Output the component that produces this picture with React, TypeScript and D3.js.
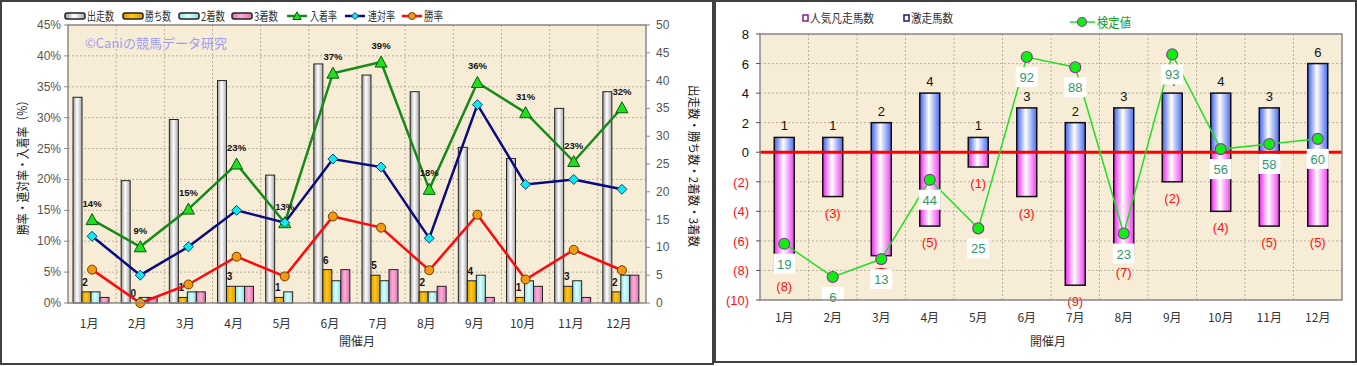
import * as d3 from "d3";

// 月別データ（左：成績、右：激走・凡走）
const months = ["1月", "2月", "3月", "4月", "5月", "6月", "7月", "8月", "9月", "10月", "11月", "12月"];
const runs = [37, 22, 33, 40, 23, 43, 41, 38, 28, 26, 35, 38];
const wins = [2, 0, 1, 3, 1, 6, 5, 2, 4, 1, 3, 2];
const seconds = [2, 1, 2, 3, 2, 4, 4, 2, 5, 4, 4, 5];
const thirds = [1, 1, 2, 3, 0, 6, 6, 3, 1, 3, 1, 5];
const placeRate = [13.5, 9.1, 15.2, 22.5, 13.0, 37.2, 39.0, 18.4, 35.7, 30.8, 22.9, 31.6];
const quinellaRate = [10.8, 4.5, 9.1, 15.0, 13.0, 23.3, 22.0, 10.5, 32.1, 19.2, 20.0, 18.4];
const winRate = [5.4, 0, 3.0, 7.5, 4.3, 14.0, 12.2, 5.3, 14.3, 3.8, 8.6, 5.3];

const hotRuns = [1, 1, 2, 4, 1, 3, 2, 3, 4, 4, 3, 6];
const popFails = [8, 3, 7, 5, 1, 3, 9, 7, 2, 4, 5, 5];
const testValue = [19, 6, 13, 44, 25, 92, 88, 23, 93, 56, 58, 60];

const rateTicks = [0, 5, 10, 15, 20, 25, 30, 35, 40, 45];
const countTicks = [0, 5, 10, 15, 20, 25, 30, 35, 40, 45, 50];
const rightTicks = [8, 6, 4, 2, 0, -2, -4, -6, -8, -10];

const jp = "'Noto Sans CJK JP', 'Liberation Sans', sans-serif";
const num = "'Liberation Sans', Arial, sans-serif";
const bg = "#f7ecd6";
const grid = "#b9b0a0";

function LeftChart() {
  const L = 68, R = 646, T = 25, B = 303;
  const x = d3.scaleBand<string>().domain(months).range([L, R]);
  const yRate = d3.scaleLinear().domain([0, 45]).range([B, T]);
  const yCount = d3.scaleLinear().domain([0, 50]).range([B, T]);
  const sub = d3.scaleBand<string>().domain(["runs", "wins", "seconds", "thirds"]).range([5, 41]);
  const cx = (i: number) => (x(months[i]) as number) + x.bandwidth() / 2;

  const series = [
    { key: "runs", vals: runs, fill: "url(#gWhite)" },
    { key: "wins", vals: wins, fill: "url(#gGold)" },
    { key: "seconds", vals: seconds, fill: "url(#gCyan)" },
    { key: "thirds", vals: thirds, fill: "url(#gPink)" },
  ];
  const line = (vals: number[]) =>
    d3.line<number>().x((_, i) => cx(i)).y((d) => yRate(d))(vals) as string;

  const tri = (px: number, py: number, s = 1) =>
    `M${px},${py - 6 * s}L${px + 6 * s},${py + 5 * s}L${px - 6 * s},${py + 5 * s}Z`;
  const dia = (px: number, py: number, s = 1) =>
    `M${px},${py - 5 * s}L${px + 5 * s},${py}L${px},${py + 5 * s}L${px - 5 * s},${py}Z`;

  const legendBoxes = [
    { x: 65, label: "出走数", fill: "url(#gWhite)", w: 27 },
    { x: 123, label: "勝ち数", fill: "url(#gGold)", w: 26 },
    { x: 179, label: "2着数", fill: "url(#gCyan)", w: 24 },
    { x: 232, label: "3着数", fill: "url(#gPink)", w: 24 },
  ];

  return (
    <g>
      <rect x={1} y={1} width={712} height={363} fill="#fff" stroke="#404040" strokeWidth={2} />
      <rect x={L} y={T} width={R - L} height={B - T} fill={bg} />
      {rateTicks.slice(1).map((t) => (
        <line key={"h" + t} x1={L} x2={R} y1={yRate(t)} y2={yRate(t)} stroke={grid} strokeDasharray="2,2" />
      ))}
      {months.slice(1).map((m) => (
        <line key={"v" + m} x1={x(m)} x2={x(m)} y1={T} y2={B} stroke={grid} strokeDasharray="2,2" />
      ))}
      <text x={85} y={48} fontFamily={jp} fontSize={13} fill="#9f9cf2">©Caniの競馬データ研究</text>

      {series.map((s) =>
        s.vals.map((v, i) =>
          v > 0 ? (
            <rect
              key={s.key + i}
              x={(x(months[i]) as number) + (sub(s.key) as number)}
              y={yCount(v)}
              width={sub.bandwidth()}
              height={B - yCount(v)}
              fill={s.fill}
              stroke="#222"
              strokeWidth={1}
            />
          ) : null
        )
      )}
      {wins.map((v, i) => (
        <text key={"wl" + i} x={(x(months[i]) as number) + (sub("wins") as number) + 3} y={yCount(v) - 6}
          fontFamily={num} fontSize={10} fontWeight="bold" textAnchor="middle" fill="#111">{v}</text>
      ))}

      <path d={line(placeRate)} fill="none" stroke="#168a16" strokeWidth={2.5} />
      <path d={line(quinellaRate)} fill="none" stroke="#0a0a80" strokeWidth={2.5} />
      <path d={line(winRate)} fill="none" stroke="#ff0a0a" strokeWidth={2.5} />
      {placeRate.map((v, i) => (
        <path key={"pt" + i} d={tri(cx(i), yRate(v))} fill="#1ee01e" stroke="#0a5a0a" strokeWidth={1} />
      ))}
      {quinellaRate.map((v, i) => (
        <path key={"qt" + i} d={dia(cx(i), yRate(v))} fill="#10e8f0" stroke="#104070" strokeWidth={1} />
      ))}
      {winRate.map((v, i) => (
        <circle key={"wt" + i} cx={cx(i)} cy={yRate(v)} r={4.5} fill="#f59a10" stroke="#6a3a00" strokeWidth={1} />
      ))}
      {placeRate.map((v, i) => (
        <text key={"pl" + i} x={cx(i)} y={yRate(v) - 13} fontFamily={num} fontSize={9.5} fontWeight="bold"
          textAnchor="middle" fill="#111">{Math.round(v)}%</text>
      ))}

      <rect x={L} y={T} width={R - L} height={B - T} fill="none" stroke="#8a8a8a" strokeWidth={1.5} />
      {rateTicks.map((t) => (
        <g key={"lt" + t}>
          <line x1={L - 4} x2={L} y1={yRate(t)} y2={yRate(t)} stroke="#8a8a8a" />
          <text x={61} y={yRate(t) + 4} textAnchor="end" fontFamily={num} fontSize={12} fill="#555">{t}%</text>
        </g>
      ))}
      {countTicks.map((t) => (
        <g key={"rt" + t}>
          <line x1={R} x2={R + 4} y1={yCount(t)} y2={yCount(t)} stroke="#8a8a8a" />
          <text x={656} y={yCount(t) + 4} fontFamily={num} fontSize={12} fill="#555">{t}</text>
        </g>
      ))}
      {months.map((m, i) => (
        <text key={"xm" + m} x={cx(i) - 3} y={328} textAnchor="middle" fontFamily={jp} fontSize={12} fill="#333">{m}</text>
      ))}
      <text x={357} y={346} textAnchor="middle" fontFamily={jp} fontSize={12} fill="#333">開催月</text>
      <text transform="translate(27,165) rotate(-90)" textAnchor="middle" fontFamily={jp} fontSize={13} fill="#222"
        textLength={140} lengthAdjust="spacingAndGlyphs">
        勝率・連対率・入着率（%）
      </text>
      <text transform="translate(689,166) rotate(90)" textAnchor="middle" fontFamily={jp} fontSize={12} fill="#222"
        textLength={162} lengthAdjust="spacingAndGlyphs">
        出走数・勝ち数・2着数・3着数
      </text>

      {legendBoxes.map((b) => (
        <g key={b.label}>
          <rect x={b.x} y={13} width={20} height={6} rx={2} fill={b.fill} stroke="#222" strokeWidth={1.5} />
          <text x={b.x + 22} y={21} fontFamily={jp} fontSize={12} fill="#333"
            textLength={b.w} lengthAdjust="spacingAndGlyphs">{b.label}</text>
        </g>
      ))}
      <line x1={287} x2={307} y1={16} y2={16} stroke="#168a16" strokeWidth={2.5} />
      <path d={tri(297, 16, 0.7)} fill="#1ee01e" stroke="#0a5a0a" />
      <text x={310} y={21} fontFamily={jp} fontSize={12} fill="#333" textLength={27} lengthAdjust="spacingAndGlyphs">入着率</text>
      <line x1={345} x2={365} y1={16} y2={16} stroke="#0a0a80" strokeWidth={2.5} />
      <path d={dia(355, 16, 0.7)} fill="#10e8f0" stroke="#104070" />
      <text x={368} y={21} fontFamily={jp} fontSize={12} fill="#333" textLength={27} lengthAdjust="spacingAndGlyphs">連対率</text>
      <line x1={402} x2={422} y1={16} y2={16} stroke="#ff0a0a" strokeWidth={2.5} />
      <circle cx={412} cy={16} r={3.5} fill="#f59a10" stroke="#6a3a00" />
      <text x={424} y={21} fontFamily={jp} fontSize={12} fill="#333" textLength={19} lengthAdjust="spacingAndGlyphs">勝率</text>
    </g>
  );
}

function RightChart() {
  const L = 760, R = 1342, T = 34, B = 300;
  const x = d3.scaleBand<string>().domain(months).range([L, R]);
  const y = d3.scaleLinear().domain([-10, 8]).range([B, T]);
  const yTest = d3.scaleLinear().domain([-3, 101]).range([B, T]);
  const cx = (i: number) => (x(months[i]) as number) + x.bandwidth() / 2;
  const bw = 20;
  const testLine = d3.line<number>().x((_, i) => cx(i)).y((d) => yTest(d))(testValue) as string;

  return (
    <g>
      <rect x={715} y={1} width={641} height={361} fill="#fff" stroke="#404040" strokeWidth={2} />
      <rect x={L} y={T} width={R - L} height={B - T} fill={bg} />
      {rightTicks.map((t) => (
        <line key={"h" + t} x1={L} x2={R} y1={y(t)} y2={y(t)} stroke={grid} strokeDasharray="2,2" />
      ))}
      {months.slice(1).map((m) => (
        <line key={"v" + m} x1={x(m)} x2={x(m)} y1={T} y2={B} stroke={grid} strokeDasharray="2,2" />
      ))}

      {hotRuns.map((v, i) => (
        <rect key={"hb" + i} x={cx(i) - bw / 2} y={y(v)} width={bw} height={y(0) - y(v)}
          fill="url(#gBlue)" stroke="#111" strokeWidth={1.5} />
      ))}
      {popFails.map((v, i) => (
        <rect key={"pb" + i} x={cx(i) - bw / 2} y={y(0)} width={bw} height={y(-v) - y(0)}
          fill="url(#gMag)" stroke="#111" strokeWidth={1.5} />
      ))}
      {hotRuns.map((v, i) => (
        <text key={"hl" + i} x={cx(i)} y={y(v) - 7} textAnchor="middle" fontFamily={num} fontSize={13} fill="#111">{v}</text>
      ))}
      {popFails.map((v, i) => (
        <text key={"pl" + i} x={cx(i)} y={y(-v) + 21} textAnchor="middle" fontFamily={num} fontSize={13} fill="#ff1010">({v})</text>
      ))}
      <line x1={L} x2={R} y1={y(0)} y2={y(0)} stroke="#ff0000" strokeWidth={3} />

      <path d={testLine} fill="none" stroke="#22e022" strokeWidth={1.5} />
      {testValue.map((v, i) => (
        <g key={"tv" + i}>
          <rect x={cx(i) - 11} y={yTest(v) + 10} width={22} height={20} fill="#fff" />
          <text x={cx(i)} y={yTest(v) + 25} textAnchor="middle" fontFamily={num} fontSize={13} fill="#2f9a6a">{v}</text>
        </g>
      ))}
      {testValue.map((v, i) => (
        <circle key={"tc" + i} cx={cx(i)} cy={yTest(v)} r={5.5} fill="#10f010" stroke="#8a3a9a" strokeWidth={1.2} />
      ))}

      <rect x={L} y={T} width={R - L} height={B - T} fill="none" stroke="#8a8a8a" strokeWidth={1.5} />
      {rightTicks.map((t) => (
        <g key={"t" + t}>
          <line x1={L - 4} x2={L} y1={y(t)} y2={y(t)} stroke="#555" />
          <text x={749} y={y(t) + 5} textAnchor="end" fontFamily={num} fontSize={13} fill={t < 0 ? "#ff1010" : "#111"}>
            {t < 0 ? `(${-t})` : t}
          </text>
        </g>
      ))}
      {months.map((m, i) => (
        <text key={"xm" + m} x={cx(i)} y={322} textAnchor="middle" fontFamily={jp} fontSize={12} fill="#333">{m}</text>
      ))}
      <text x={1048} y={346} textAnchor="middle" fontFamily={jp} fontSize={12} fill="#333">開催月</text>

      <rect x={803} y={15} width={5} height={6} fill="#fff" stroke="#8a1a8a" strokeWidth={1.5} />
      <text x={810} y={23} fontFamily={jp} fontSize={12} fill="#333" textLength={64} lengthAdjust="spacingAndGlyphs">人気凡走馬数</text>
      <rect x={904} y={15} width={5} height={6} fill="#fff" stroke="#1a1a6a" strokeWidth={1.5} />
      <text x={911} y={23} fontFamily={jp} fontSize={12} fill="#333" textLength={42} lengthAdjust="spacingAndGlyphs">激走馬数</text>
      <line x1={1070} x2={1095} y1={22} y2={22} stroke="#22e022" strokeWidth={1.5} />
      <circle cx={1082} cy={22} r={4.5} fill="#10f010" stroke="#8a3a9a" strokeWidth={1.2} />
      <text x={1097} y={27} fontFamily={jp} fontSize={13} fill="#1a9a1a" textLength={34} lengthAdjust="spacingAndGlyphs">検定値</text>
    </g>
  );
}

export default function App() {
  return (
    <svg width={1357} height={366} style={{ position: "absolute", left: 0, top: 0 }}>
      <defs>
        <linearGradient id="gWhite" x1="0" x2="1" y1="0" y2="0">
          <stop offset="0" stopColor="#9a9a9a" />
          <stop offset="0.45" stopColor="#ffffff" />
          <stop offset="1" stopColor="#a8a8a8" />
        </linearGradient>
        <linearGradient id="gGold" x1="0" x2="1" y1="0" y2="0">
          <stop offset="0" stopColor="#d89a00" />
          <stop offset="0.45" stopColor="#ffc81a" />
          <stop offset="1" stopColor="#d89a00" />
        </linearGradient>
        <linearGradient id="gCyan" x1="0" x2="1" y1="0" y2="0">
          <stop offset="0" stopColor="#8ee0e0" />
          <stop offset="0.45" stopColor="#d8ffff" />
          <stop offset="1" stopColor="#8ee0e0" />
        </linearGradient>
        <linearGradient id="gPink" x1="0" x2="1" y1="0" y2="0">
          <stop offset="0" stopColor="#e070b0" />
          <stop offset="0.45" stopColor="#f8b0d8" />
          <stop offset="1" stopColor="#e070b0" />
        </linearGradient>
        <linearGradient id="gBlue" x1="0" x2="1" y1="0" y2="0">
          <stop offset="0" stopColor="#3a5ef0" />
          <stop offset="0.45" stopColor="#ffffff" />
          <stop offset="1" stopColor="#4a6af0" />
        </linearGradient>
        <linearGradient id="gMag" x1="0" x2="1" y1="0" y2="0">
          <stop offset="0" stopColor="#f020f0" />
          <stop offset="0.45" stopColor="#ffffff" />
          <stop offset="1" stopColor="#f040f0" />
        </linearGradient>
      </defs>
      <rect width={1357} height={366} fill="#fff" />
      <LeftChart />
      <RightChart />
    </svg>
  );
}
